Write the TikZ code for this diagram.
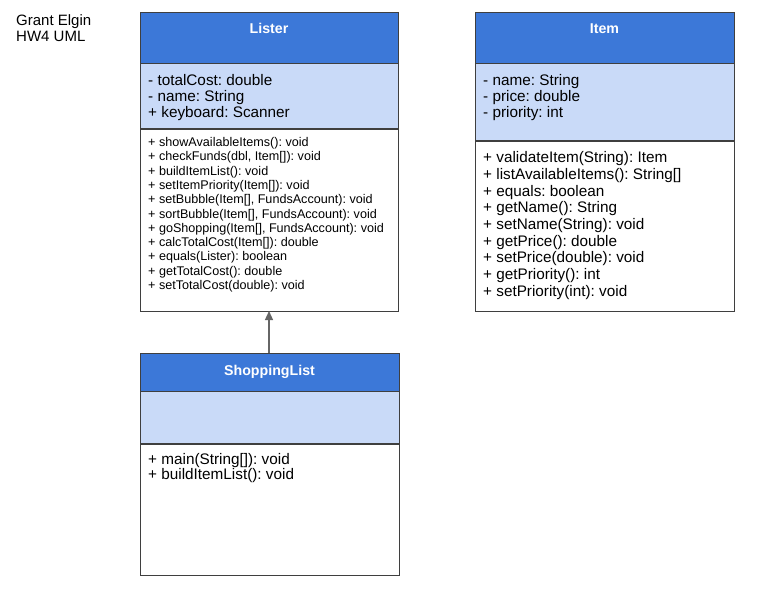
\documentclass[tikz,border=0pt]{standalone}
\usepackage{fontspec}
\setmainfont{Liberation Sans}
\frenchspacing
\usetikzlibrary{arrows.meta}
\definecolor{hdrblue}{HTML}{3C78D8}
\definecolor{attrblue}{HTML}{C9DAF8}
\definecolor{edge}{HTML}{3F3F3F}
\definecolor{arrowgray}{HTML}{666666}
\tikzset{
  comp/.style={draw=edge, line width=0.9, inner sep=0, outer sep=0, anchor=north west},
  sepline/.style={draw=edge, line width=1.8},
  title/.style={text=white, font=\fontsize{14.2}{16}\selectfont\bfseries, anchor=base, inner sep=0},
  bigtxt/.style={font=\fontsize{15.3}{16}\selectfont, anchor=base west, inner sep=0},
  smalltxt/.style={font=\fontsize{12.6}{14}\selectfont, anchor=base west, inner sep=0},
  inh/.style={draw=arrowgray, line width=1.3, -{Triangle[length=9,width=8]}}
}
\begin{document}
\begin{tikzpicture}[x=1pt,y=-1pt]
\useasboundingbox (0,0) rectangle (775,602);
\fill[white] (0,0) rectangle (775,602);

% author
\node[bigtxt, font=\fontsize{15}{16}\selectfont] (author1) at (16,26) {Grant Elgin};
\node[bigtxt, font=\fontsize{15}{16}\selectfont] (author2) at (16,41.3) {HW4 UML};

% Lister
\node[comp, fill=hdrblue, minimum width=258, minimum height=50.7] (listerHead) at (140,12.3) {};
\node[comp, fill=attrblue, minimum width=258, minimum height=66] (listerAttr) at (140,63) {};
\node[comp, fill=white, minimum width=258, minimum height=182] (listerOps) at (140,129) {};
\draw[sepline] (listerAttr.south west) -- (listerAttr.south east);
\node[title] (listerTitle) at (269,33.7) {Lister};
\foreach \t [count=\i] in {- totalCost: double, - name: String, + keyboard: Scanner}
  \node[bigtxt] (la\i) at (148,{85+16*(\i-1)}) {\t};
\foreach \t [count=\i] in {+ showAvailableItems(): void, {+ checkFunds(dbl, Item[]): void}, + buildItemList(): void, + setItemPriority(Item[]): void, {+ setBubble(Item[], FundsAccount): void}, {+ sortBubble(Item[], FundsAccount): void}, {+ goShopping(Item[], FundsAccount): void}, + calcTotalCost(Item[]): double, + equals(Lister): boolean, + getTotalCost(): double, + setTotalCost(double): void}
  \node[smalltxt] (lo\i) at (148,{146.7+14.26*(\i-1)}) {\t};

% Item
\node[comp, fill=hdrblue, minimum width=259, minimum height=50.7] (itemHead) at (475,12.3) {};
\node[comp, fill=attrblue, minimum width=259, minimum height=78] (itemAttr) at (475,63) {};
\node[comp, fill=white, minimum width=259, minimum height=170] (itemOps) at (475,141) {};
\draw[sepline] (itemAttr.south west) -- (itemAttr.south east);
\node[title] (itemTitle) at (604.5,33.7) {Item};
\foreach \t [count=\i] in {- name: String, - price: double, - priority: int}
  \node[bigtxt] (ia\i) at (483,{85+16*(\i-1)}) {\t};
\foreach \t [count=\i] in {+ validateItem(String): Item, + listAvailableItems(): String[], + equals: boolean, + getName(): String, + setName(String): void, + getPrice(): double, + setPrice(double): void, + getPriority(): int, + setPriority(int): void}
  \node[bigtxt] (io\i) at (483,{162.7+16.67*(\i-1)}) {\t};

% ShoppingList
\node[comp, fill=hdrblue, minimum width=259, minimum height=38] (shopHead) at (140,353) {};
\node[comp, fill=attrblue, minimum width=259, minimum height=53] (shopAttr) at (140,391) {};
\node[comp, fill=white, minimum width=259, minimum height=131] (shopOps) at (140,444) {};
\draw[sepline] (shopAttr.south west) -- (shopAttr.south east);
\node[title] (shopTitle) at (269.5,375) {ShoppingList};
\node[bigtxt] (so1) at (148,464.7) {+ main(String[]): void};
\node[bigtxt] (so2) at (148,479.6) {+ buildItemList(): void};

% inheritance
\draw[inh] (shopHead.north -| listerOps.south) -- (listerOps.south);
\end{tikzpicture}
\end{document}
